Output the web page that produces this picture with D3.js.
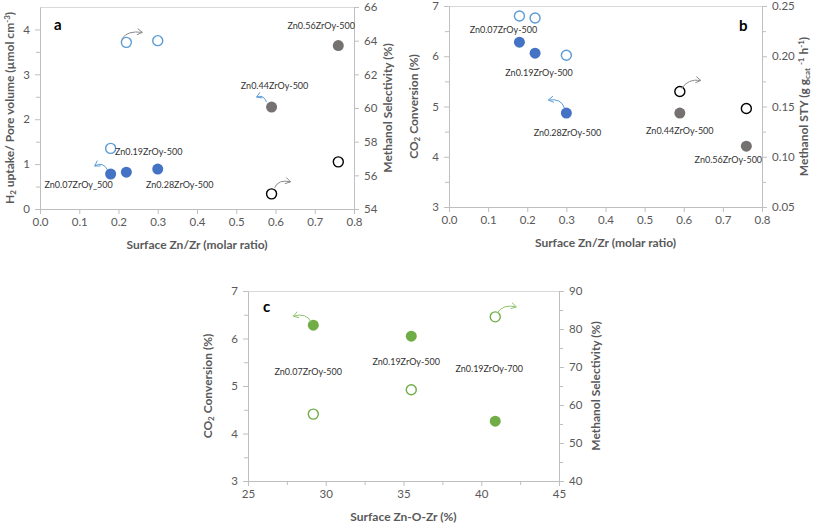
<!DOCTYPE html>
<html><head><meta charset="utf-8">
<script src="https://cdn.jsdelivr.net/npm/d3@7"></script>
<style>
body{margin:0;background:#fff;}
svg{display:block;font-family:Lato,"Open Sans",sans-serif;}
</style></head>
<body>
<svg id="c" width="817" height="525"></svg>
<script>
// ---------- DATA ----------
// Panel a: x = surface Zn/Zr
const aXBlue = [0.18, 0.22, 0.30];
const aH2Blue = [0.78, 0.82, 0.89];       // left axis (filled)
const aSelBlue = [57.6, 63.9, 64.0];      // right axis (open)
const aXGray = [0.59, 0.76];
const aH2Gray = [2.27, 3.64];
const aSelGray = [54.9, 56.8];
const aLabels = ["Zn0.07ZrOy_500", "Zn0.19ZrOy-500", "Zn0.28ZrOy-500", "Zn0.44ZrOy-500", "Zn0.56ZrOy-500"];
// Panel b
const bXBlue = [0.18, 0.22, 0.30];
const bConvBlue = [6.28, 6.06, 4.87];     // left axis (filled)
const bStyBlue = [0.240, 0.238, 0.201];   // right axis (open)
const bXGray = [0.59, 0.76];
const bConvGray = [4.87, 4.21];
const bStyGray = [0.165, 0.148];
const bLabels = ["Zn0.07ZrOy-500", "Zn0.19ZrOy-500", "Zn0.28ZrOy-500", "Zn0.44ZrOy-500", "Zn0.56ZrOy-500"];
// Panel c: x = surface Zn-O-Zr (%)
const cX = [29.2, 35.5, 40.9];
const cConv = [6.28, 6.05, 4.26];         // left axis (filled)
const cSel = [57.6, 64.0, 83.2];          // right axis (open)
const cLabels = ["Zn0.07ZrOy-500", "Zn0.19ZrOy-500", "Zn0.19ZrOy-700"];
// Ticks
const abXTicks = [0, 0.1, 0.2, 0.3, 0.4, 0.5, 0.6, 0.7, 0.8];
const aLTicks = [0, 1, 2, 3, 4];
const aRTicks = [54, 56, 58, 60, 62, 64, 66];
const bLTicks = [3, 4, 5, 6, 7];
const bRTicks = [0.05, 0.10, 0.15, 0.20, 0.25];
const cXTicks = [25, 30, 35, 40, 45];
const cLTicks = [3, 4, 5, 6, 7];
const cRTicks = [40, 50, 60, 70, 80, 90];

// ---------- STYLE ----------
const BLUE = "#4472C4", LBLUE = "#5B9BD5", GRAY = "#767171", BLACK = "#000", GREEN = "#70AD47";
const AXC = "#bfbfbf", TXT = "#595959", LBL = "#333";
const svg = d3.select("#c");

function panel(o) {
  const g = svg.append("g");
  const x = d3.scaleLinear().domain(o.xd).range([o.l, o.r]);
  const yl = d3.scaleLinear().domain(o.yld).range([o.b, o.t]);
  const yr = d3.scaleLinear().domain(o.yrd).range([o.b, o.t]);
  g.append("line").attr("x1", o.l).attr("x2", o.r).attr("y1", o.t + 0.5).attr("y2", o.t + 0.5)
    .attr("stroke", "#d9d9d9").attr("stroke-width", 1);
  const style = sel => {
    sel.select(".domain").attr("stroke", AXC);
    sel.selectAll(".tick line").attr("stroke", AXC);
    sel.selectAll("text").attr("fill", TXT).style("font-size", "11.5px").style("font-family", "Lato, sans-serif");
  };
  const minor = (axisFn, scale, vals, gx) => {
    const m = g.append("g").attr("transform", gx).call(axisFn(scale).tickValues(vals).tickSize(4).tickFormat(""));
    m.select(".domain").remove();
    m.selectAll(".tick line").attr("stroke", AXC);
  };
  if (o.xm) minor(d3.axisBottom, x, o.xm, `translate(0,${o.b})`);
  if (o.ylm) minor(d3.axisLeft, yl, o.ylm, `translate(${o.l},0)`);
  if (o.yrm) minor(d3.axisRight, yr, o.yrm, `translate(${o.r},0)`);
  g.append("g").attr("transform", `translate(0,${o.b})`)
    .call(d3.axisBottom(x).tickValues(o.xt).tickSize(5).tickSizeOuter(0).tickPadding(4).tickFormat(o.xf)).call(style);
  g.append("g").attr("transform", `translate(${o.l},0)`)
    .call(d3.axisLeft(yl).tickValues(o.ylt).tickSize(5).tickSizeOuter(0).tickPadding(5).tickFormat(o.ylf)).call(style);
  g.append("g").attr("transform", `translate(${o.r},0)`)
    .call(d3.axisRight(yr).tickValues(o.yrt).tickSize(5).tickSizeOuter(0).tickPadding(5).tickFormat(o.yrf)).call(style);
  const tt = (tx, ty, rot) => g.append("text").attr("transform", `translate(${tx},${ty})` + (rot ? " rotate(-90)" : ""))
    .attr("text-anchor", "middle").attr("fill", TXT).style("font-size", "12px").style("font-weight", "bold");
  tt((o.l + o.r) / 2, o.b + 40, false).text(o.xTitle);
  const lt = tt(o.l + o.ltx, (o.t + o.b) / 2, true); o.lTitle(lt);
  const rt = tt(o.r + o.rtx, (o.t + o.b) / 2, true); o.rTitle(rt);
  g.append("text").attr("x", o.letter[0]).attr("y", o.letter[1]).text(o.letter[2])
    .style("font-size", "15px").style("font-weight", "bold").attr("fill", "#000");
  return { g, x, yl, yr };
}

function dots(P, xs, ys, scale, filled, color) {
  P.g.selectAll(null).data(xs.map((d, i) => [d, ys[i]])).join("circle")
    .attr("cx", d => P.x(d[0])).attr("cy", d => scale(d[1]))
    .attr("r", filled ? 5.5 : 5)
    .attr("fill", filled ? color : "#fff")
    .attr("stroke", color).attr("stroke-width", filled ? 0 : 1.4);
}
function label(P, text, xv, yv, scale, dx, dy) {
  P.g.append("text").attr("x", P.x(xv) + dx).attr("y", scale(yv) + dy).attr("text-anchor", "middle")
    .attr("fill", LBL).style("font-size", "9px").text(text);
}
function arrow(P, xv, yv, scale, sx, sy, ex, ey, cx, cy, color) {
  const px = P.x(xv), py = scale(yv);
  const x0 = px + sx, y0 = py + sy, x1 = px + ex, y1 = py + ey, qx = px + cx, qy = py + cy;
  P.g.append("path").attr("d", `M${x0},${y0} Q${qx},${qy} ${x1},${y1}`)
    .attr("fill", "none").attr("stroke", color).attr("stroke-width", 1);
  const ang = Math.atan2(y1 - qy, x1 - qx), L = 6, sp = 0.55;
  P.g.append("path").attr("d",
    `M${x1 - L * Math.cos(ang - sp)},${y1 - L * Math.sin(ang - sp)} L${x1},${y1} L${x1 - L * Math.cos(ang + sp)},${y1 - L * Math.sin(ang + sp)}`)
    .attr("fill", "none").attr("stroke", color).attr("stroke-width", 1);
}
const sub = (sel, parts) => parts.forEach(p => {
  const t = sel.append("tspan").text(p[0]);
  if (p[1] === "sub") t.attr("baseline-shift", "-25%").style("font-size", "8px");
  if (p[1] === "sup") t.attr("baseline-shift", "45%").style("font-size", "8px");
});

// ---------- PANEL A ----------
const f1 = d3.format(".1f");
const A = panel({
  l: 40, r: 354, t: 7, b: 209, xd: [0, 0.8], yld: [0, 4.5], yrd: [54, 66],
  xt: abXTicks, ylt: aLTicks, yrt: aRTicks, ylm: [0.5, 1.5, 2.5, 3.5],
  xf: f1, ylf: d3.format("d"), yrf: d3.format("d"),
  xTitle: "Surface Zn/Zr (molar ratio)", ltx: -26, rtx: 38,
  lTitle: s => sub(s, [["H"], ["2", "sub"], [" uptake/ Pore volume (µmol cm"], ["-3", "sup"], [")"]]),
  rTitle: s => s.text("Methanol Selectivity (%)"),
  letter: [54, 30, "a"]
});
dots(A, aXBlue, aH2Blue, A.yl, true, BLUE);
dots(A, aXBlue, aSelBlue, A.yr, false, LBLUE);
dots(A, aXGray, aH2Gray, A.yl, true, GRAY);
dots(A, aXGray, aSelGray, A.yr, false, BLACK);
label(A, aLabels[0], aXBlue[0], aH2Blue[0], A.yl, -32, 14.5);
label(A, aLabels[1], aXBlue[0], aSelBlue[0], A.yr, 38, 6.5);
label(A, aLabels[2], aXBlue[2], aH2Blue[2], A.yl, 22, 18.5);
label(A, aLabels[3], aXGray[0], aH2Gray[0], A.yl, 3, -18.5);
label(A, aLabels[4], aXGray[1], aH2Gray[1], A.yl, -17, -16.5);
arrow(A, aXBlue[1], aSelBlue[1], A.yr, -4, -4, 16, -10, 1, -12, "#8c8c8c");
arrow(A, aXBlue[0], aH2Blue[0], A.yl, -3, -4, -16, -8, -8, -13, LBLUE);
arrow(A, aXGray[0], aH2Gray[0], A.yl, -5, -5, -15, -10, -8, -13, LBLUE);
arrow(A, aXGray[0], aSelGray[0], A.yr, 3, -6, 19, -12, 7, -15, "#8c8c8c");

// ---------- PANEL B ----------
const B = panel({
  l: 449, r: 762, t: 6, b: 207, xd: [0, 0.8], yld: [3, 7], yrd: [0.05, 0.25],
  xt: abXTicks, ylt: bLTicks, yrt: bRTicks, ylm: [3.5, 4.5, 5.5, 6.5], yrm: [0.075, 0.125, 0.175, 0.225],
  xf: f1, ylf: d3.format("d"), yrf: d3.format(".2f"),
  xTitle: "Surface Zn/Zr (molar ratio)", ltx: -31, rtx: 46,
  lTitle: s => sub(s, [["CO"], ["2", "sub"], [" Conversion (%)"]]),
  rTitle: s => sub(s, [["Methanol STY (g g"], ["cat", "sub"], [" "], ["-1", "sup"], [" h"], ["-1", "sup"], [")"]]),
  letter: [739, 31, "b"]
});
dots(B, bXBlue, bConvBlue, B.yl, true, BLUE);
dots(B, bXBlue, bStyBlue, B.yr, false, LBLUE);
dots(B, bXGray, bConvGray, B.yl, true, GRAY);
dots(B, bXGray, bStyGray, B.yr, false, BLACK);
label(B, bLabels[0], bXBlue[0], bConvBlue[0], B.yl, -16, -9.5);
label(B, bLabels[1], bXBlue[1], bConvBlue[1], B.yl, 4, 22.5);
label(B, bLabels[2], bXBlue[2], bConvBlue[2], B.yl, 1, 22.5);
label(B, bLabels[3], bXGray[0], bConvGray[0], B.yl, 0, 20.5);
label(B, bLabels[4], bXGray[1], bConvGray[1], B.yl, -18, 16.5);
arrow(B, bXBlue[2], bConvBlue[2], B.yl, -2, -5, -18, -13, -5, -15, LBLUE);
arrow(B, bXGray[0], bStyGray[0], B.yr, 2, -3, 21, -11, 8, -13, "#8c8c8c");

// ---------- PANEL C ----------
const C = panel({
  l: 248, r: 559, t: 291, b: 481, xd: [25, 45], yld: [3, 7], yrd: [40, 90],
  xt: cXTicks, ylt: cLTicks, yrt: cRTicks, xm: [27.5, 32.5, 37.5, 42.5],
  ylm: [3.5, 4.5, 5.5, 6.5], yrm: [45, 55, 65, 75, 85],
  xf: d3.format("d"), ylf: d3.format("d"), yrf: d3.format("d"),
  xTitle: "Surface Zn-O-Zr (%)", ltx: -36, rtx: 41,
  lTitle: s => sub(s, [["CO"], ["2", "sub"], [" Conversion (%)"]]),
  rTitle: s => s.text("Methanol Selectivity (%)"),
  letter: [263, 312, "c"]
});
dots(C, cX, cConv, C.yl, true, GREEN);
dots(C, cX, cSel, C.yr, false, GREEN);
label(C, cLabels[0], cX[0], cConv[0], C.yl, -5, 49.5);
label(C, cLabels[1], cX[1], cConv[1], C.yl, -5, 28.5);
label(C, cLabels[2], cX[2], cConv[2], C.yl, -6, -49.5);
arrow(C, cX[0], cConv[0], C.yl, -2, -3, -20, -9, -7, -13, "#8fc46e");
arrow(C, cX[2], cSel[2], C.yr, 2, -4, 21, -10, 8, -13, "#8fc46e");
</script>
</body></html>
